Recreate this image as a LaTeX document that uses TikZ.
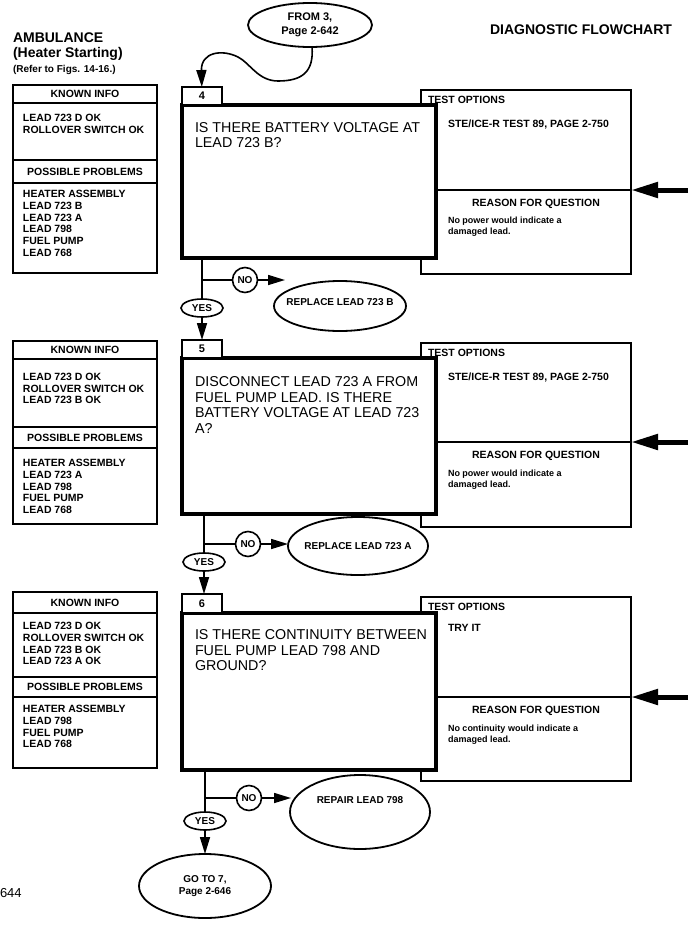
\documentclass[tikz,border=0pt]{standalone}
\usepackage{fontspec}
\setmainfont{Liberation Sans}
\usetikzlibrary{arrows.meta,shapes.geometric}
\begin{document}
\begin{tikzpicture}[x=1pt,y=-1pt,
 every node/.style={inner sep=0pt, outer sep=0pt},
 title/.style={font=\bfseries\fontsize{14}{16}\selectfont, anchor=base west},
 hdr/.style={font=\bfseries\fontsize{10.5}{12}\selectfont},
 lst/.style={font=\bfseries\fontsize{10.5}{11.7}\selectfont, align=left, anchor=north west},
 qtxt/.style={font=\fontsize{14.3}{15.5}\selectfont, align=left, anchor=north west},
 small/.style={font=\bfseries\fontsize{9}{10.5}\selectfont, align=left, anchor=north west},
 tline/.style={font=\bfseries\fontsize{10.5}{12}\selectfont, anchor=base west},
 numbox/.style={draw, line width=1.3pt, fill=white, minimum width=40pt, anchor=north west, font=\bfseries\fontsize{11}{12}\selectfont},
 qbox/.style={draw, line width=4.5pt, fill=white, minimum width=254pt, anchor=north west},
 tbox/.style={draw, line width=1.4pt, fill=white, minimum width=210pt, minimum height=184pt, anchor=north west},
 lbox/.style={draw, line width=1.3pt, minimum width=144pt, anchor=north west},
 rule/.style={line width=1.3pt},
 conn/.style={line width=1.6pt},
 arr/.style={line width=1.6pt, -{Triangle[length=17pt,width=10pt]}},
 bigarr/.style={line width=5pt, -{Triangle[length=27pt,width=15pt]}},
 oval/.style={draw, ellipse, line width=1.8pt, fill=white},
 yesell/.style={draw, ellipse, line width=1.6pt, fill=white, minimum width=42pt, minimum height=18pt, font=\bfseries\fontsize{10}{11}\selectfont},
 nocirc/.style={draw, circle, line width=1.6pt, fill=white, minimum size=25pt, font=\bfseries\fontsize{10}{11}\selectfont},
 otxt/.style={font=\bfseries\fontsize{10}{12}\selectfont, align=center}
]
\useasboundingbox (0,0) rectangle (698,934);

% ---------------- header ----------------
\node[title] (hA) at (13,43) {AMBULANCE};
\node[title] (hB) at (13,58) {(Heater Starting)};
\node[title, font=\bfseries\fontsize{10}{12}\selectfont] (hC) at (13,73) {(Refer to Figs. 14-16.)};
\node[title, anchor=base east] (hD) at (672,35) {DIAGNOSTIC FLOWCHART};
\node[font=\fontsize{13}{15}\selectfont, anchor=base west] (pg) at (0,897) {644};

\node[oval, minimum width=124pt, minimum height=44pt] (fr) at (310,25) {};
\node[otxt, font=\bfseries\fontsize{11}{14}\selectfont] (frt) at (fr) {FROM 3,\\Page 2-642};

% ================= BLOCK 4 =================
\node[lbox, minimum height=188pt] (k1) at (13,85) {};
\draw[rule] (k1.west |- 0,103) -- (k1.east |- 0,103);
\draw[rule] (k1.west |- 0,160) -- (k1.east |- 0,160);
\draw[rule] (k1.west |- 0,183) -- (k1.east |- 0,183);
\node[hdr] (k1h) at (85,94) {KNOWN INFO};
\node[lst] (k1a) at (23,114.4) {LEAD 723 D OK\\ROLLOVER SWITCH OK};
\node[hdr] (k1p) at (85,171.5) {POSSIBLE PROBLEMS};
\node[lst] (k1b) at (23,190.4) {HEATER ASSEMBLY\\LEAD 723 B\\LEAD 723 A\\LEAD 798\\FUEL PUMP\\LEAD 768};

\node[tbox] (tp1) at (421,90) {};
\coordinate (dv1) at (436,190);
\draw[rule] (dv1) -- (dv1 -| tp1.east);
\node[tline] (tp1a) at (428,103) {TEST OPTIONS};
\node[tline] (tp1b) at (448,127) {STE/ICE-R TEST 89, PAGE 2-750};
\node[tline, anchor=base] (tp1c) at (536,206.5) {REASON FOR QUESTION};
\node[small] (tp1d) at (448,217.4) {No power would indicate a\\damaged lead.};
\coordinate (ar1) at (688,190);
\draw[bigarr] (ar1) -- (ar1 -| tp1.east);

\node[qbox, minimum height=153pt] (q1) at (182,105) {};
\node[numbox, minimum height=18pt] (n4) at (182,87) {4};
\node[qtxt] (q1t) at (195,122.5) {IS THERE BATTERY VOLTAGE AT\\LEAD 723 B?};

% ================= BLOCK 5 =================
\node[lbox, minimum height=183pt] (k2) at (13,341) {};
\draw[rule] (k2.west |- 0,359) -- (k2.east |- 0,359);
\draw[rule] (k2.west |- 0,427) -- (k2.east |- 0,427);
\draw[rule] (k2.west |- 0,448) -- (k2.east |- 0,448);
\node[hdr] (k2h) at (85,350) {KNOWN INFO};
\node[lst] (k2a) at (23,373) {LEAD 723 D OK\\ROLLOVER SWITCH OK\\LEAD 723 B OK};
\node[hdr] (k2p) at (85,437.5) {POSSIBLE PROBLEMS};
\node[lst] (k2b) at (23,459.4) {HEATER ASSEMBLY\\LEAD 723 A\\LEAD 798\\FUEL PUMP\\LEAD 768};

\node[tbox] (tp2) at (421,343) {};
\coordinate (dv2) at (436,442);
\draw[rule] (dv2) -- (dv2 -| tp2.east);
\node[tline] (tp2a) at (428,356) {TEST OPTIONS};
\node[tline] (tp2b) at (448,380) {STE/ICE-R TEST 89, PAGE 2-750};
\node[tline, anchor=base] (tp2c) at (536,458.5) {REASON FOR QUESTION};
\node[small] (tp2d) at (448,470.4) {No power would indicate a\\damaged lead.};
\coordinate (ar2) at (688,442);
\draw[bigarr] (ar2) -- (ar2 -| tp2.east);

\node[qbox, minimum height=156pt] (q2) at (182,358) {};
\node[numbox, minimum height=18pt] (n5) at (182,340) {5};
\node[qtxt] (q2t) at (195,377) {DISCONNECT LEAD 723 A FROM\\FUEL PUMP LEAD. IS THERE\\BATTERY VOLTAGE AT LEAD 723\\A?};

% ================= BLOCK 6 =================
\node[lbox, minimum height=176pt] (k3) at (13,592) {};
\draw[rule] (k3.west |- 0,613) -- (k3.east |- 0,613);
\draw[rule] (k3.west |- 0,677) -- (k3.east |- 0,677);
\draw[rule] (k3.west |- 0,697) -- (k3.east |- 0,697);
\node[hdr] (k3h) at (85,602.5) {KNOWN INFO};
\node[lst] (k3a) at (23,622.4) {LEAD 723 D OK\\ROLLOVER SWITCH OK\\LEAD 723 B OK\\LEAD 723 A OK};
\node[hdr] (k3p) at (85,687) {POSSIBLE PROBLEMS};
\node[lst] (k3b) at (23,705.4) {HEATER ASSEMBLY\\LEAD 798\\FUEL PUMP\\LEAD 768};

\node[tbox] (tp3) at (421,597) {};
\coordinate (dv3) at (436,697);
\draw[rule] (dv3) -- (dv3 -| tp3.east);
\node[tline] (tp3a) at (428,610) {TEST OPTIONS};
\node[tline] (tp3b) at (448,631) {TRY IT};
\node[tline, anchor=base] (tp3c) at (536,713.5) {REASON FOR QUESTION};
\node[small] (tp3d) at (448,725.4) {No continuity would indicate a\\damaged lead.};
\coordinate (ar3) at (688,697);
\draw[bigarr] (ar3) -- (ar3 -| tp3.east);

\node[qbox, minimum height=157pt] (q3) at (182,613) {};
\node[numbox, minimum height=19pt] (n6) at (182,594) {6};
\node[qtxt] (q3t) at (195,630) {IS THERE CONTINUITY BETWEEN\\FUEL PUMP LEAD 798 AND\\GROUND?};

% ================= flow connectors =================
% entry
\coordinate (fs) at (312,47);
\coordinate (fa) at (278,81);
\coordinate (fb) at (238,57);
\draw[arr] (fs) .. controls (314,72) and (302,81) .. (fa)
  .. controls (258,81) and (250,63) .. (fb)
  .. controls (222,49) and (201,52) .. (n4);

% block 4 outcomes
\node[yesell] (y1) at (202,308) {YES};
\node[nocirc] (no1) at (245,280) {NO};
\node[oval, minimum width=132pt, minimum height=50pt] (e1) at (340,306) {};
\node[otxt] (e1t) at (340,302) {REPLACE LEAD 723 B};
\coordinate (ne1) at (285,280);
\draw[conn] (q1.south -| y1) -- (y1);
\draw[conn] (no1 -| y1) -- (no1);
\draw[arr] (no1) -- (ne1);
\draw[arr] (y1) -- (y1 |- n5.north);

% block 5 outcomes
\node[yesell] (y2) at (204,562) {YES};
\node[nocirc] (no2) at (248,544) {NO};
\node[oval, minimum width=140pt, minimum height=58pt] (e2) at (358,546) {};
\node[otxt] (e2t) at (e2) {REPLACE LEAD 723 A};
\draw[conn] (q2.south -| y2) -- (y2);
\draw[conn] (no2 -| y2) -- (no2);
\draw[arr] (no2) -- (no2 -| e2.west);
\draw[arr] (y2) -- (y2 |- n6.north);

% block 6 outcomes
\node[yesell] (y3) at (205,821) {YES};
\node[nocirc] (no3) at (249,798) {NO};
\node[oval, minimum width=140pt, minimum height=74pt] (e3) at (360,812) {};
\node[otxt] (e3t) at (360,800) {REPAIR LEAD 798};
\coordinate (ne3) at (291,798);
\node[oval, minimum width=132pt, minimum height=64pt] (g7) at (205,886) {};
\node[otxt] (g7t) at (g7) {GO TO 7,\\Page 2-646};
\draw[conn] (q3.south -| y3) -- (y3);
\draw[conn] (no3 -| y3) -- (no3);
\draw[arr] (no3) -- (ne3);
\draw[arr] (y3) -- (g7);
\end{tikzpicture}
\end{document}
